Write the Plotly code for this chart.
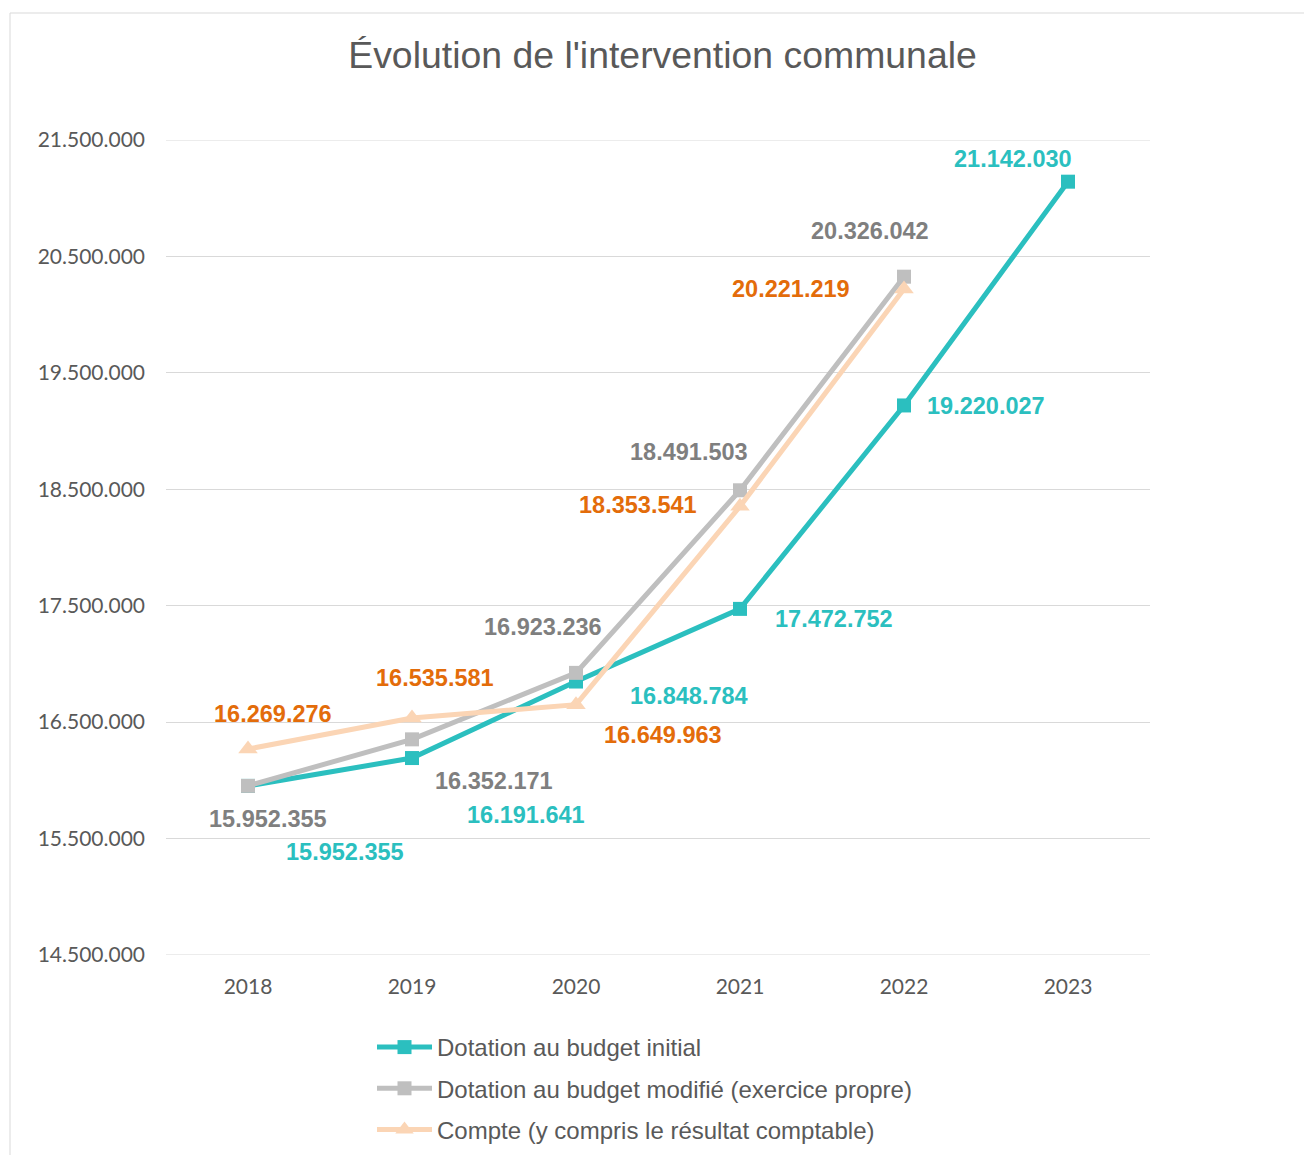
import plotly.graph_objects as go

years = ["2018", "2019", "2020", "2021", "2022", "2023"]
initial = [15952355, 16191641, 16848784, 17472752, 19220027, 21142030]
modifie = [15952355, 16352171, 16923236, 18491503, 20326042]
compte = [16269276, 16535581, 16649963, 18353541, 20221219]

y_min, y_max = 14500000, 21500000

names = [
    "Dotation au budget initial",
    "Dotation au budget modifié (exercice propre)",
    "Compte (y compris le résultat comptable)",
]
series = [initial, modifie, compte]
line_colors = ["#2BBFBF", "#BFBFBF", "#FBD5B5"]
label_colors = ["#2BBFBF", "#7F7F7F", "#E36C0A"]
symbols = ["square", "square", "triangle-up"]
marker_sizes = [14, 14, 17]

# label offsets (dx right, dy down) in pixels, per point
offsets = [
    [(97, 66), (114, 57), (113, 14), (94, 10), (82, 1), (-55, -23)],
    [(20, 33), (82, 42), (-33, -46), (-51, -38), (-34, -46)],
    [(25, -35), (23, -40), (87, 30), (-102, -1), (-113, 0)],
]

def fmt(v):
    return f"{v:,}".replace(",", ".")

fig = go.Figure()
for i, (nm, vals) in enumerate(zip(names, series)):
    fig.add_trace(go.Scatter(
        x=years[:len(vals)], y=vals, name=nm, mode="lines+markers",
        line=dict(color=line_colors[i], width=5),
        marker=dict(symbol=symbols[i], size=marker_sizes[i], color=line_colors[i]),
        legendgroup=f"g{i}",
    ))

annotations = []
for i, vals in enumerate(series):
    for j, v in enumerate(vals):
        dx, dy = offsets[i][j]
        annotations.append(dict(
            x=j, y=v, xref="x", yref="y", text=fmt(v), showarrow=False,
            xshift=dx, yshift=-dy,
            font=dict(family="Liberation Sans, Arial", size=23.5,
                      color=label_colors[i], weight="bold"),
        ))

shapes = [dict(
    type="rect", xref="paper", yref="paper",
    x0=(10 - 166) / 984, x1=1.3, y0=-0.5, y1=1 + (140 - 13) / 815,
    line=dict(color="#D9D9D9", width=1), fillcolor="rgba(0,0,0,0)", layer="below",
)]
for yv in (y_min, y_max):
    shapes.append(dict(
        type="line", xref="paper", yref="y", x0=0, x1=1, y0=yv, y1=yv,
        line=dict(color="#D9D9D9", width=1), layer="below",
    ))

fig.update_layout(
    width=1304, height=1155,
    margin=dict(l=166, r=154, t=140, b=200, autoexpand=False),
    paper_bgcolor="white", plot_bgcolor="white",
    separators=",.",
    title=dict(
        text="Évolution de l'intervention communale",
        font=dict(family="Liberation Sans, Arial", size=37.4, color="#595959"),
        x=0.5046, xref="paper", xanchor="center",
        y=1 - 55 / 1155, yref="container", yanchor="middle",
    ),
    xaxis=dict(
        type="category", range=[-0.5, 5.5], showgrid=False, zeroline=False, showline=False,
        tickfont=dict(family="Lato", size=21, color="#595959"),
        ticklabelstandoff=17,
    ),
    yaxis=dict(
        range=[y_min, y_max], dtick=1000000, tick0=y_min,
        tickformat=",d", showgrid=True, gridcolor="#D9D9D9", gridwidth=1,
        zeroline=False, showline=False,
        tickfont=dict(family="Lato", size=21, color="#595959"),
        ticklabelstandoff=20,
    ),
    legend=dict(
        x=(372 - 166) / 984, xanchor="left", y=-(1025 - 955) / 815, yanchor="top",
        font=dict(family="Liberation Sans, Arial", size=24, color="#595959"),
        traceorder="grouped", tracegroupgap=7, bgcolor="rgba(0,0,0,0)",
        itemwidth=55,
    ),
    annotations=annotations,
    shapes=shapes,
)

fig.write_html(
    "out.html",
    config={"displayModeBar": False},
    post_script="document.body.style.margin='0';document.body.style.overflow='hidden';",
)
